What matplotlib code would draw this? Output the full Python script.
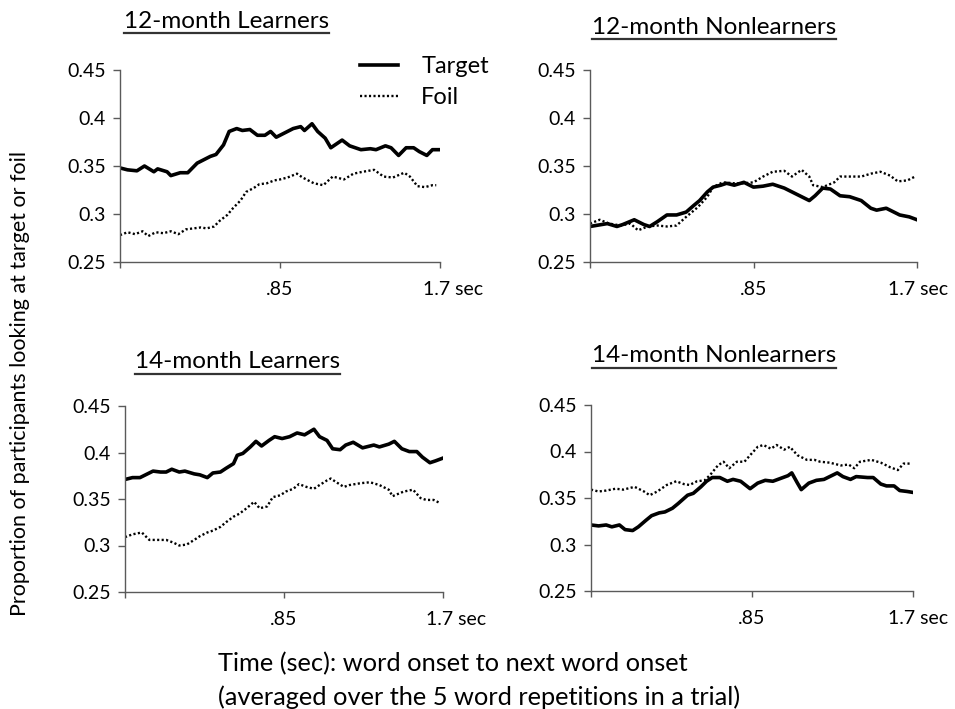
import matplotlib
matplotlib.use("Agg")
import matplotlib.pyplot as plt
import matplotlib.transforms as mtransforms
from matplotlib.lines import Line2D

plt.rcParams['font.family'] = ['Lato', 'DejaVu Sans']

# ---------------- data ----------------
titles = ["12-month Learners", "12-month Nonlearners", "14-month Learners", "14-month Nonlearners"]
series_names = ["Target", "Foil"]
y_ticks = [0.25, 0.3, 0.35, 0.4, 0.45]
y_tick_labels = ["0.25", "0.3", "0.35", "0.4", "0.45"]
x_ticks = [0, 0.85, 1.7]
x_tick_labels = ["", ".85", "1.7 sec"]

# 12-month Learners
t12L_target = [0, 0.04, 0.09, 0.13, 0.18, 0.20, 0.25, 0.27, 0.32, 0.36, 0.41, 0.44, 0.48, 0.51, 0.55,
               0.58, 0.62, 0.65, 0.69, 0.73, 0.77, 0.80, 0.83, 0.89, 0.92, 0.96, 0.98, 1.02, 1.05, 1.09,
               1.12, 1.18, 1.22, 1.28, 1.33, 1.36, 1.41, 1.44, 1.48, 1.52, 1.56, 1.59, 1.63, 1.66, 1.70]
v12L_target = [0.348, 0.346, 0.345, 0.350, 0.344, 0.347, 0.344, 0.340, 0.343, 0.343, 0.353, 0.356, 0.360,
               0.362, 0.372, 0.386, 0.389, 0.387, 0.388, 0.382, 0.382, 0.386, 0.380, 0.386, 0.389, 0.391,
               0.387, 0.394, 0.386, 0.379, 0.369, 0.377, 0.371, 0.367, 0.368, 0.367, 0.371, 0.369, 0.361,
               0.369, 0.369, 0.365, 0.361, 0.367, 0.367]
t12L_foil = [0, 0.04, 0.08, 0.12, 0.15, 0.19, 0.23, 0.27, 0.31, 0.35, 0.39, 0.43, 0.46, 0.50, 0.53, 0.57,
             0.60, 0.64, 0.67, 0.71, 0.74, 0.78, 0.82, 0.85, 0.89, 0.94, 0.97, 1.03, 1.08, 1.13, 1.19, 1.24,
             1.29, 1.35, 1.40, 1.45, 1.51, 1.54, 1.58, 1.62, 1.66, 1.68]
v12L_foil = [0.278, 0.281, 0.279, 0.282, 0.277, 0.281, 0.280, 0.282, 0.279, 0.284, 0.285, 0.286, 0.285,
             0.287, 0.293, 0.299, 0.306, 0.314, 0.323, 0.327, 0.331, 0.332, 0.335, 0.336, 0.338, 0.342,
             0.338, 0.332, 0.330, 0.339, 0.336, 0.342, 0.344, 0.346, 0.339, 0.338, 0.343, 0.339, 0.329,
             0.328, 0.330, 0.330]

# 12-month Nonlearners
t12N_target = [0, 0.03, 0.09, 0.14, 0.17, 0.23, 0.28, 0.31, 0.35, 0.40, 0.45, 0.50, 0.54, 0.57, 0.61,
               0.64, 0.68, 0.71, 0.75, 0.80, 0.85, 0.90, 0.95, 1.01, 1.06, 1.10, 1.14, 1.17, 1.21, 1.25,
               1.30, 1.35, 1.41, 1.46, 1.49, 1.54, 1.58, 1.61, 1.66, 1.70]
v12N_target = [0.287, 0.288, 0.290, 0.287, 0.289, 0.294, 0.289, 0.287, 0.292, 0.299, 0.299, 0.302, 0.309,
               0.314, 0.323, 0.328, 0.330, 0.332, 0.330, 0.333, 0.328, 0.329, 0.331, 0.327, 0.322, 0.318,
               0.314, 0.319, 0.327, 0.326, 0.319, 0.318, 0.314, 0.306, 0.304, 0.306, 0.302, 0.299, 0.297,
               0.294]
t12N_foil = [0, 0.05, 0.10, 0.16, 0.21, 0.25, 0.30, 0.35, 0.40, 0.45, 0.50, 0.56, 0.61, 0.64, 0.69, 0.75,
             0.80, 0.85, 0.90, 0.95, 1.01, 1.05, 1.10, 1.14, 1.16, 1.21, 1.27, 1.30, 1.35, 1.41, 1.46, 1.51,
             1.56, 1.60, 1.65, 1.69]
v12N_foil = [0.290, 0.294, 0.290, 0.288, 0.290, 0.283, 0.287, 0.288, 0.287, 0.288, 0.297, 0.307, 0.318,
             0.328, 0.333, 0.332, 0.332, 0.333, 0.339, 0.344, 0.345, 0.339, 0.346, 0.339, 0.330, 0.328,
             0.333, 0.339, 0.339, 0.339, 0.342, 0.344, 0.340, 0.334, 0.335, 0.339]

# 14-month Learners
t14L_target = [0, 0.04, 0.08, 0.12, 0.15, 0.19, 0.22, 0.25, 0.29, 0.32, 0.37, 0.40, 0.44, 0.47, 0.51,
               0.54, 0.58, 0.60, 0.63, 0.67, 0.70, 0.73, 0.77, 0.80, 0.84, 0.88, 0.92, 0.96, 1.01, 1.04,
               1.08, 1.11, 1.15, 1.18, 1.22, 1.27, 1.33, 1.36, 1.41, 1.44, 1.48, 1.52, 1.56, 1.59, 1.63,
               1.66, 1.70]
v14L_target = [0.371, 0.373, 0.373, 0.377, 0.380, 0.379, 0.379, 0.382, 0.379, 0.380, 0.377, 0.376, 0.373,
               0.378, 0.379, 0.383, 0.388, 0.397, 0.399, 0.406, 0.412, 0.407, 0.413, 0.417, 0.415, 0.417,
               0.421, 0.419, 0.425, 0.417, 0.413, 0.404, 0.403, 0.408, 0.411, 0.405, 0.408, 0.406, 0.409,
               0.412, 0.404, 0.401, 0.401, 0.395, 0.389, 0.391, 0.394]
t14L_foil = [0, 0.04, 0.09, 0.13, 0.18, 0.22, 0.26, 0.29, 0.33, 0.37, 0.40, 0.44, 0.47, 0.51, 0.54, 0.58,
             0.61, 0.65, 0.69, 0.72, 0.76, 0.79, 0.83, 0.86, 0.90, 0.93, 0.97, 1.01, 1.04, 1.08, 1.10, 1.13,
             1.17, 1.20, 1.26, 1.31, 1.36, 1.41, 1.43, 1.49, 1.54, 1.58, 1.61, 1.65, 1.68]
v14L_foil = [0.309, 0.312, 0.314, 0.306, 0.306, 0.306, 0.303, 0.300, 0.301, 0.306, 0.310, 0.314, 0.316,
             0.320, 0.325, 0.331, 0.334, 0.340, 0.347, 0.340, 0.342, 0.352, 0.354, 0.358, 0.361, 0.366,
             0.363, 0.361, 0.365, 0.370, 0.372, 0.368, 0.363, 0.365, 0.367, 0.368, 0.365, 0.360, 0.353,
             0.358, 0.360, 0.351, 0.349, 0.349, 0.346]

# 14-month Nonlearners
t14N_target = [0, 0.04, 0.08, 0.11, 0.15, 0.18, 0.22, 0.25, 0.29, 0.32, 0.36, 0.39, 0.43, 0.46, 0.51,
               0.54, 0.58, 0.61, 0.64, 0.68, 0.72, 0.75, 0.79, 0.84, 0.88, 0.92, 0.96, 1.00, 1.04, 1.06,
               1.09, 1.11, 1.15, 1.19, 1.23, 1.26, 1.30, 1.33, 1.37, 1.40, 1.46, 1.49, 1.53, 1.56, 1.60,
               1.63, 1.67, 1.70]
v14N_target = [0.321, 0.320, 0.321, 0.319, 0.321, 0.316, 0.315, 0.319, 0.326, 0.331, 0.334, 0.335, 0.339,
               0.344, 0.353, 0.355, 0.362, 0.368, 0.372, 0.372, 0.368, 0.370, 0.368, 0.360, 0.366, 0.369,
               0.368, 0.371, 0.374, 0.377, 0.366, 0.359, 0.366, 0.369, 0.370, 0.373, 0.377, 0.373, 0.370,
               0.373, 0.372, 0.372, 0.365, 0.363, 0.363, 0.358, 0.357, 0.356]
t14N_foil = [0, 0.04, 0.08, 0.13, 0.17, 0.23, 0.28, 0.31, 0.35, 0.40, 0.45, 0.49, 0.52, 0.56, 0.60, 0.63,
             0.67, 0.70, 0.73, 0.77, 0.81, 0.84, 0.88, 0.91, 0.95, 0.98, 1.02, 1.05, 1.09, 1.14, 1.18, 1.21,
             1.26, 1.32, 1.36, 1.39, 1.42, 1.48, 1.53, 1.58, 1.62, 1.65, 1.69]
v14N_foil = [0.359, 0.357, 0.358, 0.360, 0.359, 0.362, 0.357, 0.353, 0.357, 0.364, 0.368, 0.365, 0.364,
             0.368, 0.369, 0.375, 0.385, 0.389, 0.382, 0.389, 0.389, 0.396, 0.405, 0.407, 0.403, 0.407,
             0.402, 0.405, 0.396, 0.391, 0.391, 0.389, 0.388, 0.385, 0.386, 0.382, 0.389, 0.391, 0.388,
             0.383, 0.380, 0.387, 0.387]

panels = [
    (t12L_target, v12L_target, t12L_foil, v12L_foil),
    (t12N_target, v12N_target, t12N_foil, v12N_foil),
    (t14L_target, v14L_target, t14L_foil, v14L_foil),
    (t14N_target, v14N_target, t14N_foil, v14N_foil),
]

# ---------------- layout ----------------
W, H = 955, 709
fig = plt.figure(figsize=(W / 100, H / 100), dpi=100)

def frac(left, right, top, bottom):
    return [left / W, 1 - bottom / H, (right - left) / W, (bottom - top) / H]

axes_px = [(120, 440, 70, 262), (590, 917, 70, 262), (125, 443, 406, 592), (591, 913, 405, 591)]
title_px = [(124, 21), (592, 27), (135, 362), (592, 356)]   # left x, center y
sec_shift_px = [-17, -29, -17, -25]   # horizontal shift of the "1.7 sec" label

spine_col = "#5a5a5a"
axes = []
for i, (pos, data) in enumerate(zip(axes_px, panels)):
    ax = fig.add_axes(frac(*pos))
    tt, tv, ft, fv = data
    ax.plot(tt, tv, color="black", lw=2.6, solid_joinstyle="round", label=series_names[0])
    ax.plot(ft, fv, color="black", lw=1.7, linestyle=(0, (0.9, 1.0)), label=series_names[1])
    ax.set_xlim(0, 1.7)
    ax.set_ylim(0.25, 0.45)
    ax.set_yticks(y_ticks)
    ax.set_yticklabels(y_tick_labels)
    ax.set_xticks(x_ticks)
    ax.set_xticklabels(x_tick_labels)
    for s in ["top", "right"]:
        ax.spines[s].set_visible(False)
    for s in ["left", "bottom"]:
        ax.spines[s].set_color(spine_col)
        ax.spines[s].set_linewidth(1.0)
    ax.tick_params(axis="both", direction="out", color=spine_col, width=1.0, labelsize=14,
                   labelcolor="black")
    ax.tick_params(axis="y", length=5, pad=5)
    ax.tick_params(axis="x", length=4, pad=10)
    lab = ax.get_xticklabels()[2]
    lab.set_horizontalalignment("left")
    lab.set_transform(lab.get_transform() +
                      mtransforms.ScaledTranslation(sec_shift_px[i] / 100, 0, fig.dpi_scale_trans))
    axes.append(ax)

# titles with underline
title_texts = []
for (x, y), t in zip(title_px, titles):
    txt = fig.text(x / W, 1 - y / H, t, ha="left", va="center", fontsize=17.5, color="black")
    title_texts.append(txt)

fig.canvas.draw()
renderer = fig.canvas.get_renderer()
for txt in title_texts:
    bb = txt.get_window_extent(renderer)
    yline = bb.y0 - 1
    fig.add_artist(Line2D([bb.x0, bb.x1], [yline, yline], transform=None, color="#333333", lw=1.6))

# legend
handles, labels = axes[0].get_legend_handles_labels()
fig.legend(handles, labels, loc="upper left", bbox_to_anchor=(351 / W, 1 - 47 / H), frameon=False,
           fontsize=17, handlelength=1.57, handletextpad=1.0, labelspacing=0.42, borderaxespad=0)

# axis labels
fig.text(20 / W, 1 - 384 / H, "Proportion of participants looking at target or foil", rotation=90,
         ha="center", va="center", fontsize=15.5, color="black")
fig.text(218 / W, 1 - 664 / H, "Time (sec): word onset to next word onset", ha="left", va="center",
         fontsize=18.3, color="black")
fig.text(218 / W, 1 - 697 / H, "(averaged over the 5 word repetitions in a trial)", ha="left", va="center",
         fontsize=18.3, color="black")

fig.savefig("out.png", dpi=100)
